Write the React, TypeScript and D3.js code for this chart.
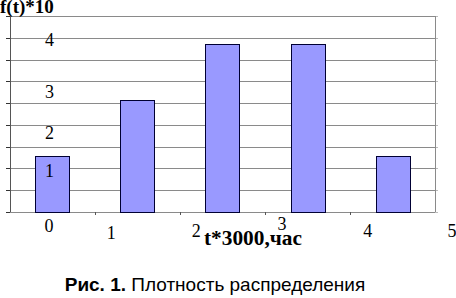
import React from "react";
import * as d3 from "d3";

const categories = ["0", "1", "2", "3", "4"];
const values = [1, 2, 3, 3, 1];
const yMax = 3.5;
const gridCount = 9;
const xTickLabels = ["0", "1", "2", "3", "4", "5"];
const yTickLabels = ["1", "2", "3", "4"];
// manual label anchors (in axis units), as in the original drawing
const xLabelAt = [0.46, 1.19, 2.19, 3.2, 4.21, 5.2];
const xLabelDy = [20, 27, 25, 18, 25, 25];
const yLabelAt = [0.625, 1.3, 2.04, 2.96];

const W = 456;
const H = 298;
const left = 10;
const right = 435;
const top = 16;
const bottom = 212;

export default function App() {
  const xb = d3.scaleBand<string>().domain(categories).range([left, right]).paddingInner(0.6).paddingOuter(0.3);
  const xl = d3.scaleLinear().domain([0, 5]).range([left, right]);
  const y = d3.scaleLinear().domain([0, yMax]).range([bottom, top]);
  const grid = d3.range(gridCount + 1).map((i) => (yMax / gridCount) * i);
  const serif = "'Liberation Serif', 'Times New Roman', serif";
  const sans = "'Liberation Sans', Arial, sans-serif";
  return (
    <svg width={W} height={H} style={{ position: "absolute", left: 0, top: 0, background: "#fff" }}>
      {grid.map((g, i) => (
        <g key={i}>
          <line x1={left} x2={right} y1={Math.round(y(g)) + 0.5} y2={Math.round(y(g)) + 0.5} stroke="#8a8a8a" strokeWidth={1} />
          <line x1={left - 4} x2={left} y1={Math.round(y(g)) + 0.5} y2={Math.round(y(g)) + 0.5} stroke="#333" strokeWidth={1} />
          <line x1={right} x2={right + 3} y1={Math.round(y(g)) + 0.5} y2={Math.round(y(g)) + 0.5} stroke="#bbb" strokeWidth={1} />
        </g>
      ))}
      <line x1={left + 0.5} x2={left + 0.5} y1={top} y2={bottom} stroke="#555" />
      <line x1={right + 0.5} x2={right + 0.5} y1={top} y2={bottom} stroke="#8a8a8a" />
      {d3.range(1, 5).map((i) => (
        <line key={i} x1={Math.round(xl(i)) + 0.5} x2={Math.round(xl(i)) + 0.5} y1={bottom} y2={bottom + 3} stroke="#555" />
      ))}
      {categories.map((c, i) => (
        <rect
          key={c}
          x={Math.round(xb(c)!) + 0.5}
          y={Math.round(y(values[i])) + 0.5}
          width={Math.round(xb.bandwidth())}
          height={Math.round(y(0) - y(values[i]))}
          fill="#9999ff"
          stroke="#000033"
          strokeWidth={1}
        />
      ))}
      {yTickLabels.map((t, i) => (
        <text key={t} x={49.5} y={y(yLabelAt[i])} textAnchor="middle" fontFamily={serif} fontSize={18} fill="#000">
          {t}
        </text>
      ))}
      {xTickLabels.map((t, i) => (
        <text key={t} x={xl(xLabelAt[i])} y={bottom + xLabelDy[i]} textAnchor="middle" fontFamily={serif} fontSize={18} fill="#000">
          {t}
        </text>
      ))}
      <text x={0} y={13} fontFamily={serif} fontWeight="bold" fontSize={19} fill="#000">
        f(t)*10
      </text>
      <text x={204} y={245} fontFamily={serif} fontWeight="bold" fontSize={20} textLength={98} lengthAdjust="spacingAndGlyphs" fill="#000">
        t*3000,час
      </text>
      <text x={215} y={291} textAnchor="middle" fontFamily={sans} fontSize={19} fill="#000">
        <tspan fontWeight="bold">Рис. 1.</tspan> Плотность распределения
      </text>
    </svg>
  );
}
